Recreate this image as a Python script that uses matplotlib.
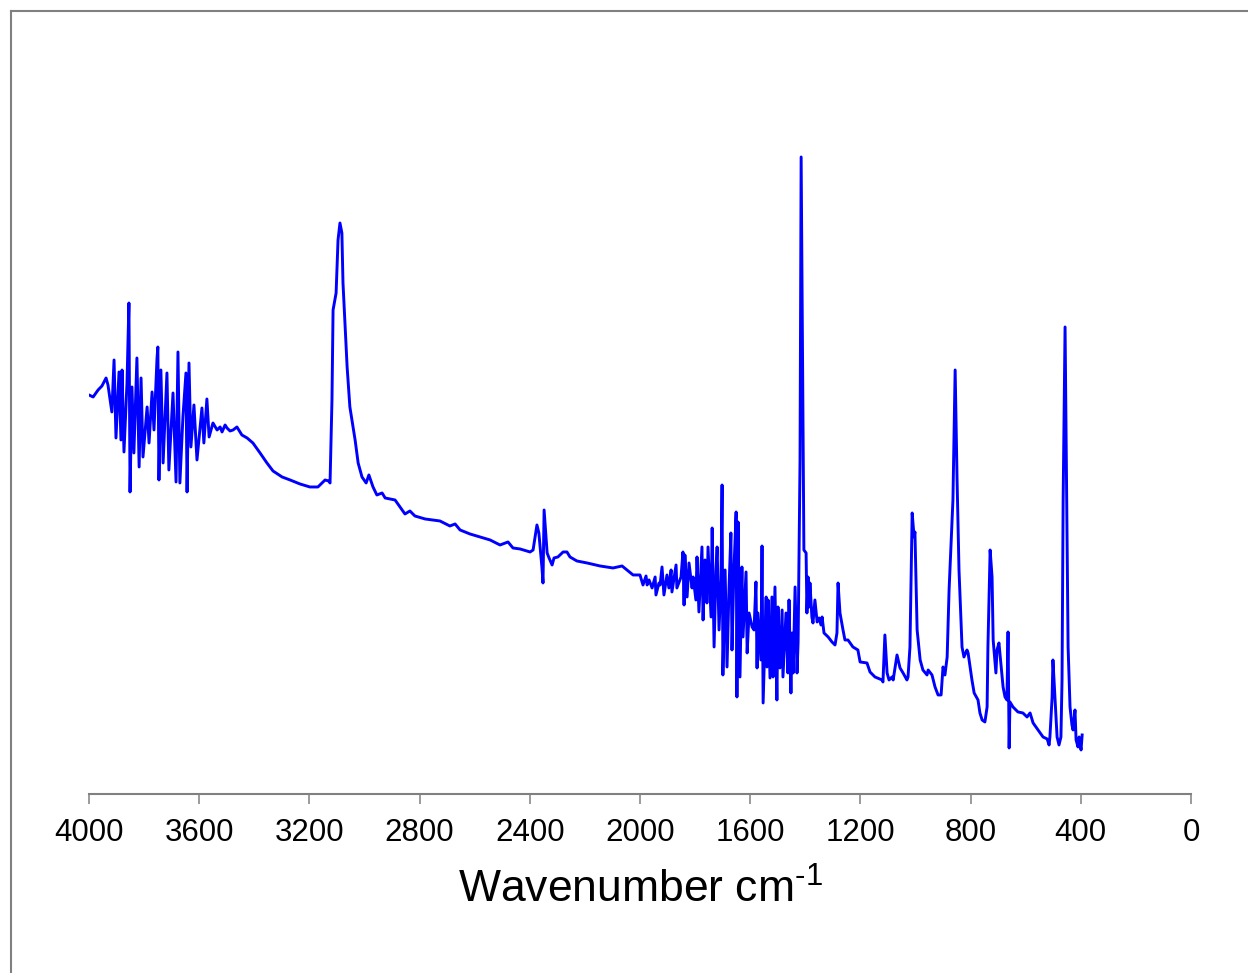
import matplotlib
matplotlib.use("Agg")
import matplotlib.pyplot as plt
from matplotlib.lines import Line2D

plt.rcParams['font.family'] = ['Liberation Sans', 'DejaVu Sans']
plt.rcParams['mathtext.fontset'] = 'custom'
plt.rcParams['mathtext.rm'] = 'Liberation Sans'
plt.rcParams['mathtext.default'] = 'regular'

# IR spectrum (arbitrary intensity units)
# 4000-3130: noisy region and broad shoulder
wn_high = [4000, 3985, 3967, 3953, 3938, 3931, 3917, 3909, 3902, 3891, 3884, 3880, 3873, 3862,
           3855, 3851, 3844, 3837, 3826, 3818, 3811, 3804, 3789, 3782, 3771, 3764, 3753, 3750,
           3746, 3739, 3731, 3717, 3710, 3695, 3684, 3677, 3670, 3659, 3648, 3644, 3637, 3630,
           3619, 3608, 3590, 3583, 3572, 3564, 3550, 3535, 3524, 3517, 3506, 3499, 3488, 3477,
           3463, 3445, 3426, 3405, 3379, 3354, 3332, 3299, 3270, 3234, 3198, 3169, 3143, 3130]
int_high = [39.9, 39.7, 40.4, 40.8, 41.6, 40.9, 38.2, 43.4, 35.6, 42.2, 35.4, 42.4, 34.2, 41.1,
            49.1, 30.2, 40.7, 34.1, 43.6, 32.7, 41.6, 33.7, 38.7, 35.1, 40.2, 36.4, 43.6, 44.7,
            31.4, 42.4, 33.1, 42.1, 32.4, 40.1, 31.2, 44.2, 31.1, 37.7, 42.1, 30.2, 43.1, 34.7,
            38.9, 33.4, 38.6, 35.1, 39.5, 35.7, 37.1, 36.4, 36.7, 36.2, 36.9, 36.6, 36.3, 36.4,
            36.7, 35.9, 35.6, 35.1, 34.1, 33.1, 32.3, 31.7, 31.4, 31.0, 30.7, 30.7, 31.4, 31.3]

# 3125-2025: C-H band and slope
wn_mid = [3125, 3118, 3114, 3103, 3096, 3089, 3082, 3078, 3063, 3053, 3034, 3023, 3009, 2994,
          2984, 2969, 2955, 2936, 2925, 2889, 2853, 2835, 2817, 2780, 2726, 2690, 2671, 2653,
          2617, 2581, 2544, 2508, 2479, 2461, 2435, 2399, 2388, 2374, 2367, 2356, 2352, 2348,
          2337, 2330, 2319, 2312, 2298, 2279, 2265, 2254, 2229, 2192, 2145, 2098, 2065, 2047, 2025]
int_mid = [31.1, 39.4, 48.4, 50.1, 55.4, 57.1, 56.1, 51.1, 42.7, 38.7, 35.4, 33.1, 31.7, 31.1,
           31.9, 30.7, 29.9, 30.1, 29.6, 29.4, 28.0, 28.3, 27.8, 27.5, 27.3, 26.8, 27.0, 26.4,
           26.0, 25.7, 25.4, 24.9, 25.2, 24.6, 24.5, 24.2, 24.4, 26.9, 26.1, 22.7, 21.1, 28.4,
           24.1, 23.6, 22.9, 23.6, 23.7, 24.2, 24.2, 23.7, 23.3, 23.1, 22.8, 22.6, 22.8, 22.4, 21.9]

# 2000-1415: noisy water region up to the strong band
wn_noise = [2000, 1989, 1978, 1974, 1967, 1956, 1945, 1942, 1931, 1927, 1920, 1913, 1902, 1895,
            1887, 1884, 1869, 1866, 1851, 1844, 1840, 1837, 1829, 1822, 1811, 1807, 1797, 1793,
            1786, 1775, 1771, 1764, 1757, 1753, 1742, 1738, 1731, 1724, 1720, 1713, 1706, 1702,
            1699, 1691, 1684, 1677, 1670, 1666, 1659, 1651, 1648, 1644, 1637, 1630, 1626, 1615,
            1611, 1604, 1593, 1586, 1579, 1575, 1572, 1561, 1557, 1553, 1542, 1539, 1535, 1528,
            1521, 1517, 1510, 1503, 1499, 1492, 1484, 1481, 1470, 1463, 1459, 1452, 1448, 1444,
            1437, 1430, 1426, 1423, 1419, 1415]
int_noise = [21.9, 20.9, 21.8, 20.9, 21.4, 20.6, 21.7, 19.9, 21.1, 20.9, 22.7, 19.9, 21.9, 20.6,
             22.4, 20.2, 22.9, 20.6, 21.7, 24.2, 18.9, 23.9, 19.7, 23.1, 20.6, 21.7, 19.4, 23.7,
             18.2, 24.7, 17.4, 23.4, 19.1, 24.7, 17.7, 26.6, 14.7, 22.4, 24.7, 16.4, 21.4, 30.9,
             11.9, 22.4, 12.7, 20.4, 26.1, 14.4, 22.4, 28.2, 9.7, 27.2, 11.7, 22.7, 15.7, 22.2,
             14.1, 18.1, 16.7, 16.4, 21.2, 12.6, 18.1, 13.4, 24.8, 9.1, 19.7, 12.7, 19.4, 11.6,
             19.7, 11.7, 20.7, 9.4, 18.7, 12.6, 18.4, 11.7, 18.1, 12.1, 19.4, 10.1, 16.1, 12.1,
             20.7, 12.1, 15.2, 23.4, 33.4, 63.7]

# 1408-395: fingerprint region
wn_low = [1408, 1405, 1397, 1394, 1390, 1386, 1383, 1376, 1372, 1365, 1357, 1350, 1343, 1339,
          1332, 1317, 1303, 1292, 1285, 1281, 1274, 1263, 1256, 1245, 1227, 1209, 1201, 1176,
          1165, 1147, 1121, 1118, 1111, 1103, 1096, 1085, 1081, 1067, 1056, 1045, 1031, 1027,
          1020, 1012, 1005, 1002, 994, 983, 973, 958, 954, 940, 929, 918, 907, 900, 893, 885,
          878, 871, 864, 856, 849, 842, 831, 824, 813, 809, 795, 787, 773, 766, 758, 748, 740,
          737, 729, 722, 718, 708, 704, 697, 689, 682, 675, 668, 664, 660, 657, 646, 628, 610,
          595, 584, 573, 555, 537, 522, 515, 512, 504, 501, 493, 486, 479, 472, 468, 464, 457,
          450, 446, 439, 432, 428, 421, 417, 410, 406, 399, 395]
int_low = [35.4, 24.4, 24.1, 18.1, 21.7, 18.7, 21.1, 17.7, 17.1, 19.4, 17.2, 17.6, 16.9, 17.7,
           16.1, 15.7, 15.2, 14.9, 16.1, 21.1, 18.1, 16.4, 15.4, 15.4, 14.7, 14.4, 13.2, 13.1,
           12.2, 11.7, 11.4, 11.2, 15.9, 12.1, 11.4, 11.7, 11.4, 13.9, 12.6, 12.1, 11.4, 11.7,
           14.7, 28.1, 25.7, 26.2, 16.4, 13.4, 12.4, 11.9, 12.4, 11.9, 10.7, 9.9, 9.9, 12.7, 11.9, 13.7,
           20.4, 24.9, 29.4, 42.4, 31.4, 22.4, 14.7, 13.7, 14.4, 14.1, 11.4, 10.1, 9.4, 8.1, 7.4, 7.2, 8.7,
           14.7, 24.4, 21.7, 15.4, 12.1, 14.4, 15.1, 12.7, 10.7, 9.7, 9.4, 16.2, 4.6, 9.2, 8.7, 8.2, 8.1,
           7.7, 8.1, 7.1, 6.4, 5.7, 5.5, 4.9, 5.7, 9.7, 13.4, 9.4, 5.7, 4.9, 5.7, 11.4, 29.4, 46.7,
           26.4, 14.7, 8.7, 6.9, 6.4, 8.4, 5.4, 4.7, 5.7, 4.4, 5.9]

wavenumber = wn_high + wn_mid + wn_noise + wn_low
intensity = int_high + int_mid + int_noise + int_low

fig = plt.figure(figsize=(12.48, 9.73), dpi=100)
ax = fig.add_axes([0.0713, 0.184, 0.883, 0.8047])

ax.plot(wavenumber, intensity, color='#0000ff', linewidth=2.1)

ax.set_xlim(4000, 0)
ax.set_ylim(0, 78.3)
ax.set_xticks(range(4000, -1, -400))
ax.set_yticks([])
for side in ['top', 'left', 'right']:
    ax.spines[side].set_visible(False)
ax.spines['bottom'].set_color('#808080')
ax.spines['bottom'].set_linewidth(1.5)
ax.tick_params(axis='x', direction='out', length=7, width=1.1, color='#808080',
               labelsize=22.5, pad=10)
ax.set_xlabel(r'Wavenumber cm$^{\text{-1}}$', fontsize=32, labelpad=15)

# frame lines along the top and left edges
fig.add_artist(Line2D([0.0088, 0.0088], [0.0, 0.9887], transform=fig.transFigure,
                      color='#808080', linewidth=1.5))
fig.add_artist(Line2D([0.0088, 1.0], [0.9887, 0.9887], transform=fig.transFigure,
                      color='#808080', linewidth=1.5))

fig.savefig('out.png', dpi=100)
